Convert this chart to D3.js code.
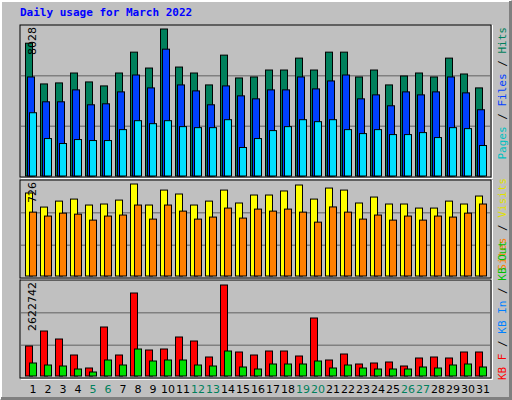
<!DOCTYPE html>
<html><head><meta charset="utf-8">
<script src="https://cdn.jsdelivr.net/npm/d3@7"></script>
<style>body{margin:0;background:#fff}</style>
</head><body>
<svg id="chart" width="512" height="400"></svg>
<script>
const days = d3.range(1, 32);
const weekend = [5, 6, 12, 13, 19, 20, 26, 27];
const hits = [7252,5028,5083,5625,5137,4920,5625,6764,5896,8028,5950,5625,4974,6601,5354,5408,5788,5788,6438,5788,6764,6764,5408,5788,4974,5462,5625,5408,6438,5571,4811];
const files = [5408,4052,4052,4703,3889,3943,4594,5516,4811,6927,4974,4648,3889,4920,4377,4214,4703,4703,5408,4757,5191,5516,4214,4431,3835,4594,4431,4594,5408,4540,3618];
const pages = [3455,2045,1774,1991,1936,1936,2533,3021,2858,3021,2696,2641,2641,3075,1557,2045,2479,2696,3075,2967,3075,2533,2316,2533,2262,2262,2370,2099,2641,2587,1665];
const visits = [655,544,591,607,560,568,599,726,560,678,647,560,591,678,576,639,639,671,718,607,694,678,576,623,568,568,536,536,591,568,631];
const sites = [504,473,496,488,441,473,481,560,449,560,512,449,465,536,457,528,512,528,504,425,545,504,449,481,441,473,441,473,465,496,568];
const kbF = [864630,1296945,1066377,605241,230568,1412229,605241,2392143,749346,778167,1124019,1008735,547599,2622742,691704,605241,720525,720525,576420,1671618,461136,634062,345852,374673,403494,288210,518778,547599,518778,691704,691704];
const kbOut = [374700,317000,288200,201700,115300,461100,317000,778200,432300,461100,461100,317000,288200,720500,259400,201700,345900,345900,345900,432300,230600,317000,230600,201700,201700,201700,259400,230600,317000,345900,259400];

const svg = d3.select('#chart');
svg.append('rect').attr('width', 512).attr('height', 400).attr('fill', '#c0c0c0');
svg.append('path').attr('d', 'M1,399 L1,1 L511,1').attr('stroke', '#fff').attr('stroke-width', 2).attr('fill', 'none');
svg.append('path').attr('d', 'M1,399 L511,399 L511,1').attr('stroke', '#808080').attr('stroke-width', 4).attr('fill', 'none');

svg.append('text').attr('x', 20).attr('y', 16).text('Daily usage for March 2022')
    .attr('font-family', 'DejaVu Sans Mono').attr('font-weight', 'bold').attr('font-size', 11).attr('fill', '#0000ff');

const x = d3.scaleLinear().domain([1, 31]).range([25, 475]);
const bw = 8;

function panel(top, bottom, base, series, maxPx, label) {
    svg.append('rect').attr('x', 20).attr('y', top).attr('width', 471).attr('height', bottom - top)
        .attr('fill', '#c0c0c0').attr('stroke', '#000').attr('stroke-width', 1);
    svg.append('path').attr('d', `M21,${bottom + 1.5} L492.5,${bottom + 1.5} L492.5,${top}`)
        .attr('stroke', '#fff').attr('fill', 'none');
    const third = (bottom - top) / 3;
    [1, 2].forEach(i => {
        svg.append('line').attr('x1', 21).attr('x2', 490)
            .attr('y1', bottom - i * third).attr('y2', bottom - i * third)
            .attr('stroke', '#808080').attr('stroke-width', 1.5);
    });
    const maxV = d3.max(series[0].values);
    const y = d3.scaleLinear().domain([0, maxV]).range([base, base - maxPx]);
    series.forEach(s => {
        svg.append('g').selectAll('rect').data(s.values).join('rect')
            .attr('x', (d, i) => x(days[i]) + s.off + 0.5)
            .attr('y', d => y(d))
            .attr('width', bw - 1)
            .attr('height', d => base - y(d))
            .attr('fill', s.color).attr('stroke', '#000').attr('stroke-width', 1);
    });
    svg.append('text').attr('transform', `translate(36,${top + 2}) rotate(-90)`)
        .attr('text-anchor', 'end').attr('font-family', 'DejaVu Sans').attr('font-size', 11)
        .text(d3.format('d')(maxV));
}

panel(25, 177, 176, [
    {values: hits, color: '#00805c', off: 0},
    {values: files, color: '#0040ff', off: 2},
    {values: pages, color: '#00e0ff', off: 4}
], 147);
panel(180, 278, 276, [
    {values: visits, color: '#ffff00', off: 0},
    {values: sites, color: '#ff8000', off: 4}
], 92);
panel(280, 378, 376, [
    {values: kbF, color: '#ff0000', off: 0},
    {values: kbOut, color: '#00e000', off: 4}
], 91);

function sideLabel(parts, yPos, anchor) {
    const t = svg.append('text').attr('transform', `translate(506,${yPos}) rotate(-90)`)
        .attr('text-anchor', anchor).attr('font-family', 'DejaVu Sans Mono').attr('font-size', 11);
    parts.forEach(p => t.append('tspan').attr('fill', p[1]).text(p[0]));
}
sideLabel([['Pages', '#00c0c0'], [' / ', '#000'], ['Files', '#0040ff'], [' / ', '#000'], ['Hits', '#00805c']], 27, 'end');
sideLabel([['Sites', '#ff8000'], [' / ', '#000'], ['Visits', '#e0e000']], 178, 'end');
sideLabel([['KB F', '#ff0000'], [' / ', '#000'], ['KB In', '#0080ff'], [' / ', '#000'], ['KB Out', '#00c000']], 380, 'start');

svg.append('g').selectAll('text').data(days).join('text')
    .attr('x', d => x(d) + 8).attr('y', 393).attr('text-anchor', 'middle')
    .attr('font-family', 'DejaVu Sans').attr('font-size', 11)
    .attr('fill', d => weekend.includes(d) ? '#00805c' : '#000')
    .text(d => d);
</script>
</body></html>
